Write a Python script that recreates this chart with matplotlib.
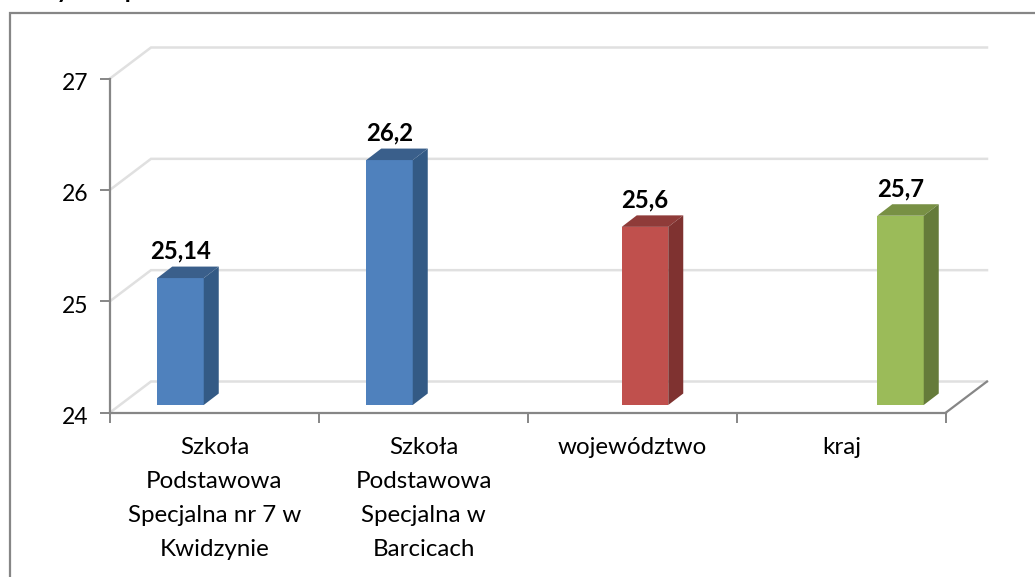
#!/usr/bin/env python3
"""Fake-3D column chart, Excel style: front plane is the axes, depth drawn by hand."""
import numpy as np
import matplotlib
matplotlib.use('Agg')
import matplotlib.pyplot as plt
from matplotlib.patches import Polygon, Rectangle
from matplotlib.transforms import ScaledTranslation

categories = ['Szkoła\nPodstawowa\nSpecjalna nr 7 w\nKwidzynie',
              'Szkoła\nPodstawowa\nSpecjalna w\nBarcicach',
              'województwo', 'kraj']
szkola = [25.14, 26.2, np.nan, np.nan]
wojewodztwo = [np.nan, np.nan, 25.6, np.nan]
kraj = [np.nan, np.nan, np.nan, 25.7]
yticks = [24, 25, 26, 27]
labels = {25.14: '25,14', 26.2: '26,2', 25.6: '25,6', 25.7: '25,7'}

W, H = 1035, 577
plt.rcParams['font.family'] = ['Lato', 'DejaVu Sans']

fig = plt.figure(figsize=(W / 100, H / 100), dpi=100)
# front plane of the chart, in pixels
L, R, T, B = 110, 946, 78.5, 412.5
ax = fig.add_axes([L / W, 1 - B / H, (R - L) / W, (B - T) / H])
ax.set_xlim(-0.5, 3.5)
ax.set_ylim(24, 27)
ax.patch.set_visible(False)

xpx = (R - L) / 4        # pixels per category
ypx = (B - T) / 3        # pixels per unit


def dx(px):
    return px / xpx


def dy(px):
    return px / ypx


# frame of the whole chart, cut off at the picture edge
fig.add_artist(Rectangle((10 / W, -0.05), 1.1, 1.05 - 12.5 / H, fill=False,
                         ec='#868686', lw=1.6, transform=fig.transFigure))
# title sits above the crop, only its descenders show
fig.text(31 / W, 1 + 10 / H, 'Wyniki sprawdzianu', fontsize=17.5, fontweight='bold',
         va='center', ha='left', color='black')

# walls: gridlines on the back plane, floor and side
depth_x, depth_y = dx(41), dy(31)
grid_c = '#e0e0e0'
for v in yticks:
    ax.plot([-0.5, -0.5 + depth_x, 3.5 + depth_x], [v, v + depth_y, v + depth_y],
            color=grid_c, lw=1.8, clip_on=False, zorder=1, solid_joinstyle='miter')
ax.plot([3.5, 3.5 + depth_x], [24, 24 + depth_y], color='#868686', lw=1.6,
        clip_on=False, zorder=1)

# bars
series = [(szkola, '#4f81bd', '#3a5f8b', '#335a85'),
          (wojewodztwo, '#c0504d', '#8f3b39', '#7f3230'),
          (kraj, '#9bbb59', '#789044', '#657b3a')]
bar_w = 46.5 / xpx
off_x, off_y = dx(12.5), dy(7.5)     # bar front sits inside the floor
bar_dx, bar_dy = dx(15), dy(11.5)    # bar depth
pos = np.arange(len(categories))
for i, (vals, front, top, side) in enumerate(series):
    x = pos + (i - 1) * bar_w + off_x
    ax.bar(x, np.array(vals) - 24, width=bar_w, bottom=24 + off_y, color=front, zorder=3,
           clip_on=False)
    for xi, v in zip(x, vals):
        if np.isnan(v):
            continue
        x0, x1 = xi - bar_w / 2, xi + bar_w / 2
        y0, y1 = 24 + off_y, v + off_y
        ax.add_patch(Polygon([(x0, y1), (x1, y1), (x1 + bar_dx, y1 + bar_dy), (x0 + bar_dx, y1 + bar_dy)],
                             closed=True, fc=top, ec='none', zorder=3, clip_on=False))
        ax.add_patch(Polygon([(x1, y0), (x1 + bar_dx, y0 + bar_dy), (x1 + bar_dx, y1 + bar_dy), (x1, y1)],
                             closed=True, fc=side, ec='none', zorder=3, clip_on=False))
        ax.text(xi, y1 + bar_dy + dy(4), labels[v], fontsize=17.2, fontweight='bold',
                ha='center', va='bottom', color='black', zorder=4)

# axes
for s in ['top', 'right']:
    ax.spines[s].set_visible(False)
for s in ['left', 'bottom']:
    ax.spines[s].set_color('#868686')
    ax.spines[s].set_linewidth(1.6)
    ax.spines[s].set_zorder(2)
ax.set_yticks(yticks)
ax.set_xticks(np.arange(-0.5, 4, 1))
ax.set_xticklabels([])
ax.tick_params(axis='both', length=7, width=1.4, color='#868686', labelsize=16.5, labelcolor='black')
ax.tick_params(axis='y', pad=8)
# tick numbers sit a little below their tick in the reference
shift = ScaledTranslation(-1 / 100, -3 / 100, fig.dpi_scale_trans)
for lab in ax.get_yticklabels():
    lab.set_transform(lab.get_transform() + shift)
for i, name in enumerate(categories):
    ax.annotate(name, (i, 24), xytext=(0, -24), textcoords='offset pixels', fontsize=17.4,
                ha='center', va='top', linespacing=1.77, color='black', annotation_clip=False)

fig.savefig('out.png', dpi=100)
